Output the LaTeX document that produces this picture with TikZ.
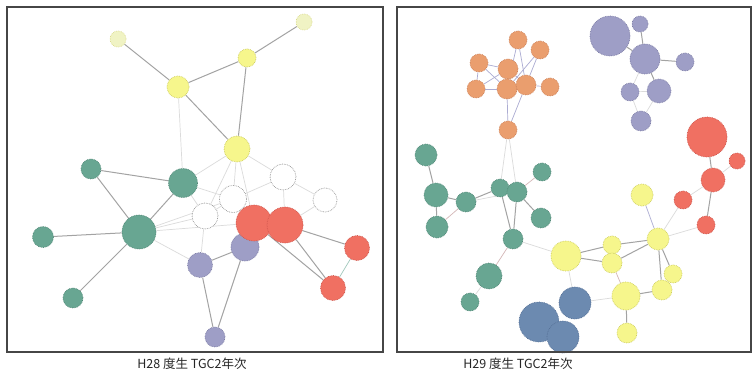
\documentclass[tikz,border=0pt]{standalone}
\usepackage{fontspec}
\newfontfamily\jpfont{Noto Sans CJK JP}
\usetikzlibrary{backgrounds}
\definecolor{tealfill}{RGB}{104,166,146}
\definecolor{tealline}{RGB}{80,135,118}
\definecolor{yelfill}{RGB}{246,246,140}
\definecolor{yelline}{RGB}{205,205,95}
\definecolor{paleyel}{RGB}{240,243,196}
\definecolor{redfill}{RGB}{240,112,98}
\definecolor{redline}{RGB}{205,85,75}
\definecolor{purfill}{RGB}{158,158,198}
\definecolor{purline}{RGB}{125,125,165}
\definecolor{orafill}{RGB}{234,158,110}
\definecolor{oraline}{RGB}{205,130,90}
\definecolor{bluefill}{RGB}{108,138,176}
\definecolor{blueline}{RGB}{85,112,150}
\definecolor{framec}{RGB}{70,70,70}
\tikzset{
  nd/.style={circle, inner sep=0pt, line width=0.7pt, densely dotted},
  tealn/.style={nd, fill=tealfill, draw=tealline},
  yeln/.style={nd, fill=yelfill, draw=yelline},
  paleyn/.style={nd, fill=paleyel, draw=yelline!70},
  redn/.style={nd, fill=redfill, draw=redline},
  purn/.style={nd, fill=purfill, draw=purline},
  whiten/.style={nd, fill=white, draw=gray!85},
  oran/.style={nd, fill=orafill, draw=oraline},
  bluen/.style={nd, fill=bluefill, draw=blueline},
  strong/.style={draw=gray!72, line width=1pt},
  weak/.style={draw=gray!28, line width=0.7pt},
  pinkl/.style={draw=red!25!gray!45, line width=0.7pt},
  bluel/.style={draw=blue!30!gray!50, line width=0.7pt},
  panel/.style={draw=framec, line width=1.6pt},
  caption/.style={font=\jpfont\fontsize{12.5}{14}\selectfont, text=black!85}
}
\begin{document}
\begin{tikzpicture}[x=1pt, y=-1pt]
\useasboundingbox (0,0) rectangle (752,372);

% ---------- left network ----------
\node[paleyn, minimum size=16pt] (a1) at (118,39) {};
\node[paleyn, minimum size=16pt] (a2) at (304,22) {};
\node[yeln, minimum size=18pt] (a3) at (247,58) {};
\node[yeln, minimum size=22pt] (a4) at (178,87) {};
\node[yeln, minimum size=26pt] (a5) at (237,149) {};

\node[tealn, minimum size=20pt] (t1) at (91,169) {};
\node[tealn, minimum size=29pt] (t2) at (183,183) {};
\node[tealn, minimum size=34pt] (t3) at (139,232) {};
\node[tealn, minimum size=21pt] (t4) at (43,237) {};
\node[tealn, minimum size=20pt] (t5) at (73,298) {};

\node[whiten, minimum size=26pt] (w1) at (283,177) {};
\node[whiten, minimum size=27pt] (w2) at (233,199) {};
\node[whiten, minimum size=24pt] (w3) at (325,200) {};
\node[whiten, minimum size=26pt] (w4) at (205,216) {};

\node[purn, minimum size=28pt] (p1) at (245,247) {};
\node[purn, minimum size=25pt] (p2) at (200,265) {};
\node[purn, minimum size=20pt] (p3) at (215,337) {};

\node[redn, minimum size=36pt] (r1) at (254,223) {};
\node[redn, minimum size=36pt] (r2) at (285,225) {};
\node[redn, minimum size=25pt] (r3) at (357,248) {};
\node[redn, minimum size=25pt] (r4) at (333,288) {};

% ---------- right network ----------
\node[oran, minimum size=18pt] (o1) at (518,40) {};
\node[oran, minimum size=18pt] (o2) at (540,50) {};
\node[oran, minimum size=18pt] (o3) at (479,63) {};
\node[oran, minimum size=20pt] (o4) at (508,69) {};
\node[oran, minimum size=18pt] (o5) at (476,89) {};
\node[oran, minimum size=20pt] (o6) at (507,89) {};
\node[oran, minimum size=20pt] (o7) at (526,85) {};
\node[oran, minimum size=18pt] (o8) at (550,87) {};
\node[oran, minimum size=18pt] (o9) at (508,130) {};

\node[purn, minimum size=40pt] (v1) at (610,36) {};
\node[purn, minimum size=16pt] (v2) at (640,24) {};
\node[purn, minimum size=30pt] (v3) at (645,59) {};
\node[purn, minimum size=18pt] (v4) at (685,62) {};
\node[purn, minimum size=18pt] (v5) at (630,92) {};
\node[purn, minimum size=24pt] (v6) at (659,91) {};
\node[purn, minimum size=20pt] (v7) at (641,121) {};

\node[redn, minimum size=40pt] (s1) at (707,137) {};
\node[redn, minimum size=16pt] (s2) at (737,161) {};
\node[redn, minimum size=24pt] (s3) at (713,180) {};
\node[redn, minimum size=18pt] (s4) at (683,200) {};
\node[redn, minimum size=18pt] (s5) at (706,225) {};

\node[tealn, minimum size=22pt] (g1) at (426,155) {};
\node[tealn, minimum size=24pt] (g2) at (436,195) {};
\node[tealn, minimum size=20pt] (g3) at (466,202) {};
\node[tealn, minimum size=22pt] (g4) at (437,227) {};
\node[tealn, minimum size=18pt] (g5) at (500,188) {};
\node[tealn, minimum size=20pt] (g6) at (517,192) {};
\node[tealn, minimum size=18pt] (g7) at (542,172) {};
\node[tealn, minimum size=20pt] (g8) at (541,218) {};
\node[tealn, minimum size=20pt] (g9) at (513,239) {};
\node[tealn, minimum size=26pt] (g10) at (489,276) {};
\node[tealn, minimum size=18pt] (g11) at (470,302) {};

\node[yeln, minimum size=22pt] (y1) at (642,195) {};
\node[yeln, minimum size=30pt] (y2) at (566,256) {};
\node[yeln, minimum size=18pt] (y3) at (612,245) {};
\node[yeln, minimum size=20pt] (y4) at (612,263) {};
\node[yeln, minimum size=22pt] (y5) at (658,239) {};
\node[yeln, minimum size=18pt] (y6) at (673,274) {};
\node[yeln, minimum size=20pt] (y7) at (662,290) {};
\node[yeln, minimum size=28pt] (y8) at (626,296) {};
\node[yeln, minimum size=20pt] (y9) at (627,333) {};

\node[bluen, minimum size=32pt] (b1) at (575,303) {};
\node[bluen, minimum size=40pt] (b2) at (539,322) {};
\node[bluen, minimum size=32pt] (b3) at (563,337) {};

% ---------- connectors, kept behind the nodes ----------
\begin{scope}[on background layer]
  \fill[white] (0,0) rectangle (752,372);

  % left
  \draw[strong] (a1) -- (a4);
  \draw[strong] (a4) -- (a3);
  \draw[strong] (a3) -- (a2);
  \draw[strong] (a4) -- (a5);
  \draw[strong] (a3) -- (a5);
  \draw[weak] (a4) -- (t2);
  \draw[weak] (a5) -- (t2);
  \draw[weak] (a5) -- (w2);
  \draw[weak] (a5) -- (r1);
  \draw[weak] (a5) -- (w1);
  \draw[weak] (a5) -- (w4);
  \draw[strong] (t1) -- (t2);
  \draw[strong] (t1) -- (t3);
  \draw[strong] (t2) -- (t3);
  \draw[strong] (t3) -- (t4);
  \draw[strong] (t3) -- (t5);
  \draw[weak] (t2) -- (w2);
  \draw[weak] (t2) -- (w4);
  \draw[weak] (t3) -- (w4);
  \draw[weak] (t3) -- (r1);
  \draw[weak] (t3) -- (w2);
  \draw[weak] (t3) -- (p2);
  \draw[weak] (w1) -- (w2);
  \draw[weak] (w1) -- (w3);
  \draw[weak] (w1) -- (r2);
  \draw[weak] (w3) -- (r2);
  \draw[weak] (w2) -- (w4);
  \draw[weak] (w4) -- (p2);
  \draw[strong] (r2) -- (r3);
  \draw[strong] (r1) -- (r4);
  \draw[strong] (r2) -- (r4);
  \draw[draw=tealfill!60, line width=0.7pt] (r3) -- (r4);
  \draw[strong] (p1) -- (p2);
  \draw[strong] (p1) -- (p3);
  \draw[strong] (p2) -- (p3);
  \draw[weak] (p1) -- (r1);

  % right
  \draw[bluel] (o3) -- (o4);
  \draw[bluel] (o3) -- (o6);
  \draw[bluel] (o5) -- (o6);
  \draw[bluel] (o5) -- (o4);
  \draw[bluel] (o3) -- (o5);
  \draw[bluel] (o4) -- (o6);
  \draw[bluel] (o4) -- (o7);
  \draw[bluel] (o6) -- (o7);
  \draw[bluel] (o7) -- (o8);
  \draw[bluel] (o1) -- (o6);
  \draw[bluel] (o1) -- (o7);
  \draw[bluel] (o2) -- (o7);
  \draw[bluel] (o2) -- (o6);
  \draw[bluel] (o6) -- (o9);
  \draw[bluel] (o7) -- (o9);
  \draw[weak] (o9) -- (g5);
  \draw[weak] (o9) -- (g6);

  \draw[strong] (v1) -- (v3);
  \draw[strong] (v2) -- (v3);
  \draw[strong] (v3) -- (v4);
  \draw[weak] (v3) -- (v5);
  \draw[strong] (v3) -- (v6);
  \draw[weak] (v5) -- (v7);
  \draw[weak] (v6) -- (v7);
  \draw[weak] (v5) -- (v6);

  \draw[strong] (s1) -- (s3);
  \draw[weak] (s2) -- (s3);
  \draw[weak] (s3) -- (s4);
  \draw[strong] (s3) -- (s5);
  \draw[weak] (s4) -- (y5);
  \draw[weak] (s5) -- (y5);

  \draw[strong] (g1) -- (g2);
  \draw[strong] (g2) -- (g3);
  \draw[strong] (g2) -- (g4);
  \draw[pinkl] (g3) -- (g4);
  \draw[strong] (g3) -- (g5);
  \draw[weak] (g3) -- (g6);
  \draw[strong] (g5) -- (g6);
  \draw[pinkl] (g6) -- (g7);
  \draw[strong] (g6) -- (g8);
  \draw[strong] (g5) -- (g9);
  \draw[strong] (g6) -- (g9);
  \draw[pinkl] (g9) -- (g10);
  \draw[weak] (g10) -- (g11);
  \draw[weak] (g9) -- (y2);

  \draw[bluel] (y1) -- (y5);
  \draw[strong] (y2) -- (y3);
  \draw[strong] (y2) -- (y4);
  \draw[strong] (y3) -- (y5);
  \draw[strong] (y4) -- (y5);
  \draw[weak] (y3) -- (y4);
  \draw[pinkl] (y4) -- (y8);
  \draw[strong] (y5) -- (y6);
  \draw[strong] (y5) -- (y7);
  \draw[weak] (y6) -- (y7);
  \draw[strong] (y7) -- (y8);
  \draw[strong] (y8) -- (y9);
  \draw[weak] (y2) -- (b1);
  \draw[weak] (y8) -- (b1);
\end{scope}

% ---------- frames and captions ----------
\draw[panel] (7,7) rectangle (383,352);
\draw[panel] (397,7) rectangle (751,352);
\node[caption] (cap1) at (192,364) {H28 度生 TGC2年次};
\node[caption] (cap2) at (518,364) {H29 度生 TGC2年次};
\end{tikzpicture}
\end{document}
